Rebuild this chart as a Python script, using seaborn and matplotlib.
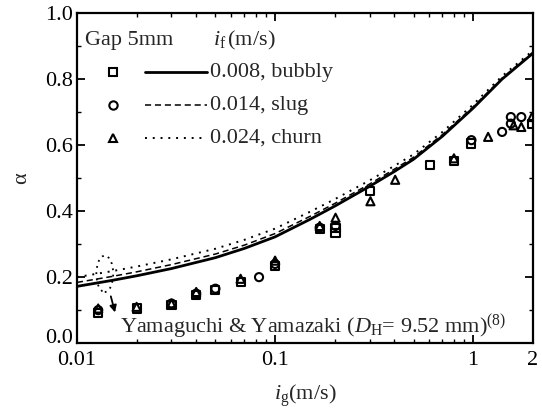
import numpy as np
import pandas as pd
import matplotlib
matplotlib.use("Agg")
import matplotlib.pyplot as plt
import matplotlib.transforms as mtransforms
from matplotlib.patches import Ellipse
from matplotlib.ticker import FixedLocator, MultipleLocator, LogLocator, NullFormatter
import seaborn as sns

# ---- data ----
sq_x = [0.0128, 0.020, 0.030, 0.040, 0.050, 0.067, 0.10, 0.168, 0.202, 0.202, 0.303, 0.605, 0.80, 0.98, 1.98]
sq_y = [0.09, 0.105, 0.115, 0.145, 0.16, 0.185, 0.235, 0.345, 0.335, 0.35, 0.46, 0.54, 0.552, 0.605, 0.665]

ci_x = [0.0128, 0.030, 0.040, 0.050, 0.083, 0.10, 0.168, 0.202, 0.98, 1.40, 1.55, 1.55, 1.75]
ci_y = [0.10, 0.12, 0.15, 0.165, 0.20, 0.24, 0.35, 0.355, 0.615, 0.64, 0.665, 0.685, 0.685]

tr_x = [0.0128, 0.020, 0.030, 0.040, 0.067, 0.10, 0.168, 0.202, 0.303, 0.404, 0.80, 1.19, 1.60, 1.75, 1.98]
tr_y = [0.105, 0.11, 0.12, 0.155, 0.195, 0.25, 0.355, 0.38, 0.43, 0.495, 0.56, 0.625, 0.66, 0.655, 0.685]

line_x = [0.01, 0.015, 0.02, 0.03, 0.05, 0.07, 0.1, 0.15, 0.2, 0.3, 0.4, 0.5, 0.7, 1.0, 1.4, 2.0]
solid_y = [0.172, 0.19, 0.204, 0.226, 0.259, 0.287, 0.322, 0.375, 0.415, 0.475, 0.52, 0.557, 0.627, 0.712, 0.80, 0.878]
dashed_y = [0.184, 0.202, 0.216, 0.238, 0.27, 0.297, 0.332, 0.384, 0.423, 0.482, 0.527, 0.563, 0.632, 0.716, 0.803, 0.881]
dotted_y = [0.20, 0.218, 0.232, 0.254, 0.286, 0.313, 0.347, 0.398, 0.436, 0.493, 0.537, 0.572, 0.64, 0.723, 0.809, 0.886]

legend_labels = ["0.008, bubbly", "0.014, slug", "0.024, churn"]
x_ticks = [0.01, 0.1, 1, 2]
x_ticklabels = ["0.01", "0.1", "1", "2"]
y_ticks = [0.0, 0.2, 0.4, 0.6, 0.8, 1.0]

# ---- style ----
sns.set_theme(style="ticks")
plt.rcParams["font.family"] = ["Liberation Serif", "DejaVu Serif"]
plt.rcParams["mathtext.fontset"] = "custom"
plt.rcParams["mathtext.rm"] = "Liberation Serif"
plt.rcParams["mathtext.it"] = "Liberation Serif:italic"
plt.rcParams["axes.linewidth"] = 1.6

FS = 16
fig = plt.figure(figsize=(5.42, 4.09), dpi=100)
ax = fig.add_axes([0.142, 0.161, 0.841, 0.807])

lines_df = pd.DataFrame({"x": line_x, "solid": solid_y, "dashed": dashed_y, "dotted": dotted_y})
sns.lineplot(data=lines_df, x="x", y="solid", ax=ax, color="black", lw=2.0)
sns.lineplot(data=lines_df, x="x", y="dashed", ax=ax, color="black", lw=1.1, linestyle=(0, (4, 2.5)))
sns.lineplot(data=lines_df, x="x", y="dotted", ax=ax, color="black", lw=1.4, linestyle=(0, (1, 3)))

mk = dict(s=34, facecolor="none", edgecolor="black", linewidth=1.5, ax=ax, zorder=3)
sns.scatterplot(x=sq_x, y=sq_y, marker="s", **mk)
sns.scatterplot(x=ci_x, y=ci_y, marker="o", **mk)
sns.scatterplot(x=tr_x, y=tr_y, marker="^", **mk)

ax.set_xscale("log")
ax.set_xlim(0.01, 2)
ax.set_ylim(0, 1.0)
ax.xaxis.set_major_locator(FixedLocator(x_ticks))
ax.set_xticklabels(x_ticklabels)
ax.xaxis.set_minor_locator(LogLocator(base=10, subs=np.arange(2, 10)))
ax.xaxis.set_minor_formatter(NullFormatter())
ax.yaxis.set_major_locator(FixedLocator(y_ticks))
ax.set_yticklabels([f"{v:.1f}" for v in y_ticks])
ax.yaxis.set_minor_locator(MultipleLocator(0.1))
ax.tick_params(which="both", direction="in", top=True, right=True, labelsize=FS, colors="black")
ax.tick_params(which="major", length=6, width=1.3, pad=3)
ax.tick_params(which="minor", length=3, width=1.0)
ax.tick_params(axis="x", which="major", pad=6)
for s in ax.spines.values():
    s.set_color("black")

# lift the "0.0" label slightly so it sits above "0.01", as in the reference
lbl0 = ax.get_yticklabels()[0]
lbl0.set_transform(lbl0.get_transform() + mtransforms.ScaledTranslation(0, 5 / 72, fig.dpi_scale_trans))

ax.set_xlabel(r"$\mathit{i}_{\mathrm{g}}$(m/s)", fontsize=FS, labelpad=9)
ax.set_ylabel("α", fontsize=FS, labelpad=10)

# ---- manual legend ----
T = ax.transAxes
ax.text(0.0175, 0.918, "Gap 5mm", transform=T, fontsize=FS, va="center", ha="left")
ax.text(0.298, 0.918, r"$\mathit{i}_{\mathrm{f}}\,$(m/s)", transform=T, fontsize=FS, va="center", ha="left")
rows_y = [0.821, 0.721, 0.621]
markers = ["s", "o", "^"]
styles = [dict(lw=2.0, ls="-"), dict(lw=1.1, ls=(0, (4, 2.5))), dict(lw=1.4, ls=(0, (1, 3)))]
for yy, m, st, lab in zip(rows_y, markers, styles, legend_labels):
    ax.plot([0.079], [yy], marker=m, ms=6, mfc="none", mec="black", mew=1.5, transform=T, ls="none")
    ax.plot([0.149, 0.285], [yy, yy], color="black", transform=T, **st)
    ax.text(0.292, yy, lab, transform=T, fontsize=FS, va="center", ha="left")

# ---- annotation ----
ax.add_patch(Ellipse((0.061, 0.21), 0.037, 0.11, transform=T, fill=False,
                     ls=(0, (1, 2.5)), lw=1.3, color="black"))
ax.annotate("", xy=(0.0157, 0.085), xytext=(0.0147, 0.15),
            arrowprops=dict(arrowstyle="-|>", color="black", lw=1.3, mutation_scale=10))
ax.text(0.01645, 0.028, r"Yamaguchi & Yamazaki ($\mathit{D}_{\mathrm{H}}$= 9.52 mm)$^{\mathrm{(8)}}$",
        fontsize=FS, va="baseline", ha="left")

fig.savefig("out.png", dpi=100)
